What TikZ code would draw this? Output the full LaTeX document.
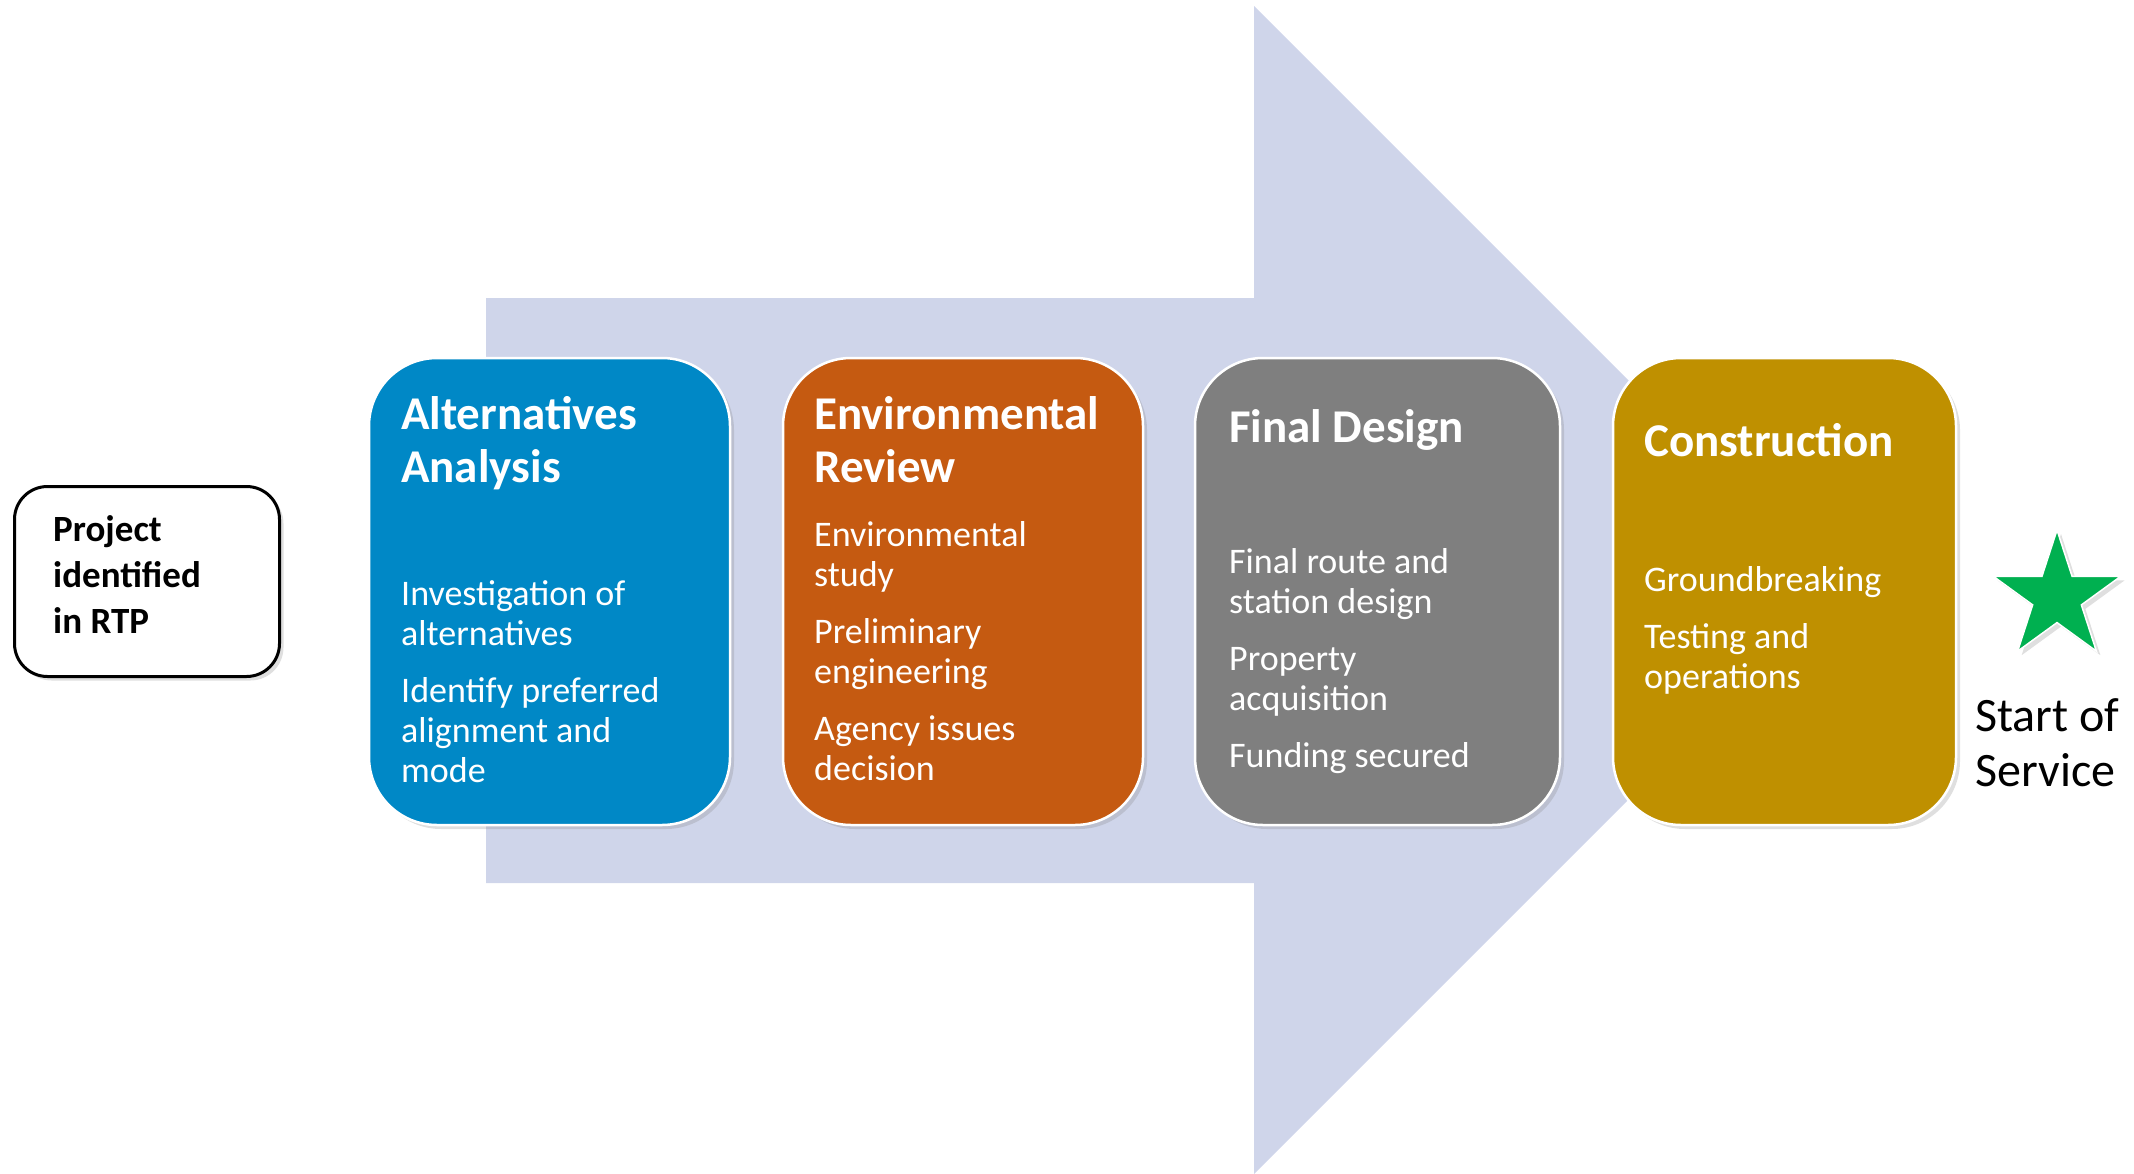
\documentclass[tikz,border=0pt]{standalone}
\usepackage{fontspec}
\setmainfont{Carlito}
\usepackage{tikz}
\usetikzlibrary{shapes.geometric}
\usetikzlibrary{shadows}
\definecolor{arrowfill}{RGB}{207,213,234}
\definecolor{aablue}{RGB}{0,136,198}
\definecolor{erorange}{RGB}{197,90,17}
\definecolor{fdgray}{RGB}{127,127,127}
\definecolor{congold}{RGB}{191,144,0}
\definecolor{stargreen}{RGB}{0,176,80}
\newcommand{\cardheight}{467pt}
\newcommand{\itemgap}{17pt}
\tikzstyle{softshadow}=[drop shadow={opacity=0.25, shadow xshift=4pt, shadow yshift=-4pt}]
\tikzstyle{card}=[draw=white, line width=2.5pt, rounded corners=68pt, minimum height=\cardheight,
                  anchor=north west, inner sep=0, outer sep=0, softshadow]
% texts are placed by the baseline of their last line
\tikzstyle{cardhead}=[anchor=base west, align=left, text=white, inner sep=0,
                      font=\fontsize{47}{53}\selectfont\bfseries]
\tikzstyle{cardbody}=[anchor=base west, align=left, text=white, inner sep=0,
                      font=\fontsize{36}{40}\selectfont]
\begin{document}
\begin{tikzpicture}[x=1pt, y=-1pt]
    \useasboundingbox (0,0) rectangle (2134,1173);
    % big arrow behind the stages
    \fill[arrowfill] (486,298) -- (1254,298) -- (1254,6) -- (1838,590) -- (1254,1174)
        -- (1254,883) -- (486,883) -- cycle;
    % starting point
    \node[draw=black, line width=3pt, fill=white, rounded corners=33pt, minimum width=265pt,
          minimum height=190pt, anchor=north west, softshadow] (rtp) at (13,485) {};
    \node[anchor=base west, align=left, inner sep=0, font=\fontsize{37}{46}\selectfont\bfseries]
        (rtptext) at (53,633) {Project\\identified\\in RTP};
    % stages
    \node[card, fill=aablue, minimum width=361pt] (aa) at (369,358) {};
    \node[cardhead] (aahead) at (401,482) {Alternatives\\Analysis};
    \node[cardbody] (aabody) at (401,782)
        {Investigation of\\alternatives\\[\itemgap]Identify preferred\\alignment and\\mode};
    \node[card, fill=erorange, minimum width=360pt] (er) at (783,358) {};
    \node[cardhead] (erhead) at (814,482) {Environmental\\Review};
    \node[cardbody] (erbody) at (814,780)
        {Environmental\\study\\[\itemgap]Preliminary\\engineering\\[\itemgap]Agency issues\\decision};
    \node[card, fill=fdgray, minimum width=365pt] (fd) at (1195,358) {};
    \node[cardhead] (fdhead) at (1229,442) {Final Design};
    \node[cardbody] (fdbody) at (1229,767)
        {Final route and\\station design\\[\itemgap]Property\\acquisition\\[\itemgap]Funding secured};
    \node[card, fill=congold, minimum width=343pt] (con) at (1613,358) {};
    \node[cardhead] (conhead) at (1644,456) {Construction};
    \node[cardbody] (conbody) at (1644,688)
        {Groundbreaking\\[\itemgap]Testing and\\operations};
    % end point
    \node[star, star points=5, star point ratio=2.618, fill=stargreen, draw=white, line width=1.5pt,
          minimum size=134pt, inner sep=0, softshadow] (svc) at (2057,597) {};
    \node[anchor=base west, align=left, inner sep=0, font=\fontsize{48}{55}\selectfont]
        (svctext) at (1975,786) {Start of\\Service};
\end{tikzpicture}
\end{document}
